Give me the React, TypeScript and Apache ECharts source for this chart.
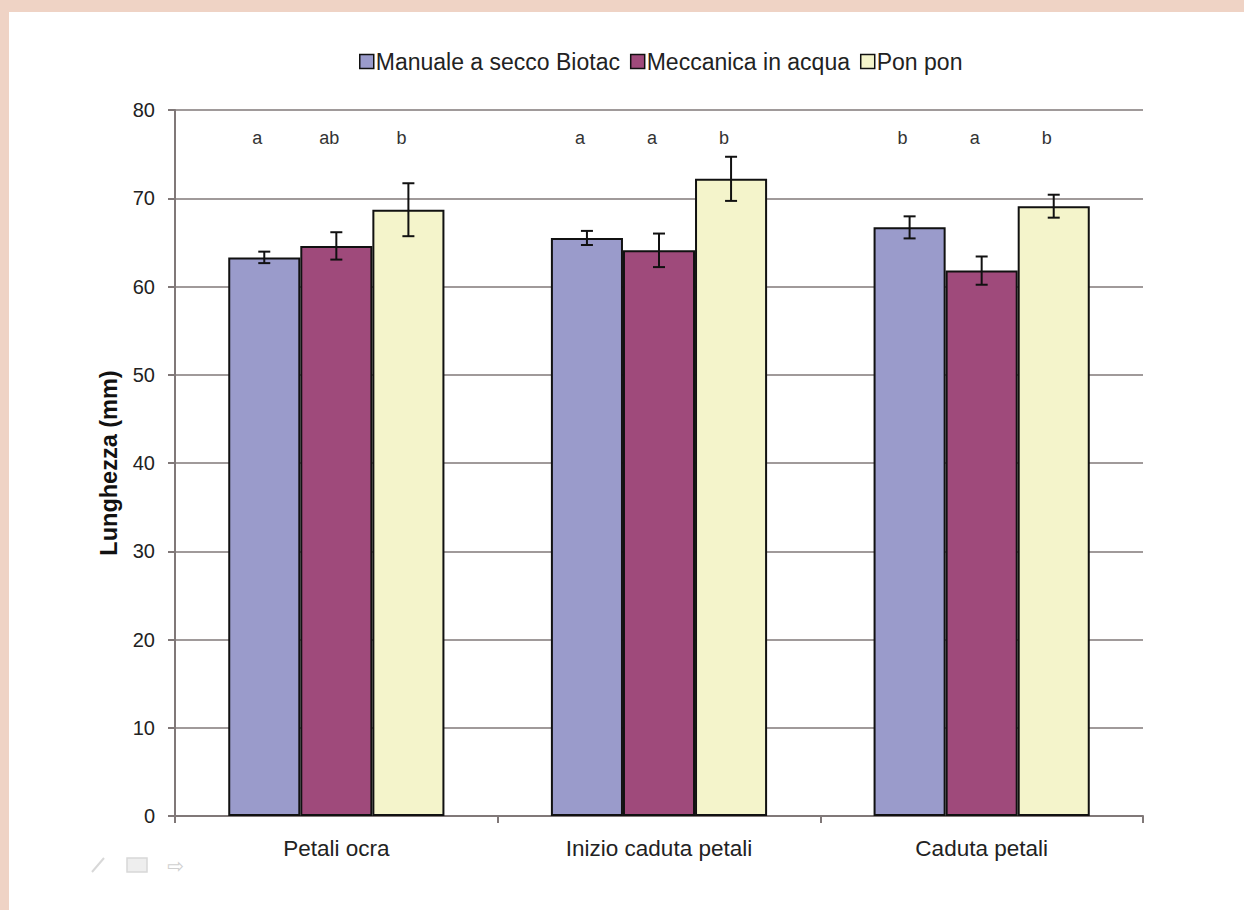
import React, { useEffect, useRef } from "react";
import * as echarts from "echarts";

const categories = ["Petali ocra", "Inizio caduta petali", "Caduta petali"];
const seriesNames = ["Manuale a secco Biotac", "Meccanica in acqua", "Pon pon"];
const manuale = [63.3, 65.5, 66.7];
const manualeErr = [0.65, 0.8, 1.25];
const meccanica = [64.6, 64.1, 61.8];
const meccanicaErr = [1.55, 1.9, 1.6];
const ponpon = [68.7, 72.2, 69.1];
const ponponErr = [3.0, 2.5, 1.3];
const manualeLetters = ["a", "a", "b"];
const meccanicaLetters = ["ab", "a", "a"];
const ponponLetters = ["b", "b", "b"];
const letterLevel = 76.8;
const yTicks = [0, 10, 20, 30, 40, 50, 60, 70, 80];

const colors = ["#9a9bcb", "#9f4a7b", "#f4f4cb"];
const FONT = "Liberation Sans, Arial, sans-serif";
const CAT_GAP = 0.33;

export default function App() {
  const ref = useRef<HTMLDivElement>(null);
  useEffect(() => {
    if (!ref.current) return;
    const chart = echarts.init(ref.current, undefined, { renderer: "svg" });
    const values = [manuale, meccanica, ponpon];
    const errs = [manualeErr, meccanicaErr, ponponErr];
    const letters = [manualeLetters, meccanicaLetters, ponponLetters];

    const barSeries = values.map((v, i) => ({
      name: seriesNames[i],
      type: "bar",
      data: v,
      barGap: "0%",
      barCategoryGap: "33%",
      itemStyle: { color: colors[i], borderColor: "#111", borderWidth: 2 },
      z: 2,
    }));

    const errSeries = values.map((v, i) => ({
      name: "err" + i,
      type: "custom",
      z: 5,
      data: v.map((m, k) => [k, m, errs[i][k]]),
      encode: { x: 0, y: 1 },
      renderItem: (params: any, api: any) => {
        const cat = api.value(0);
        const mean = api.value(1);
        const e = api.value(2);
        const catW = api.size([1, 0])[0];
        const barW = (catW * (1 - CAT_GAP)) / 3;
        const off = (i - 1) * barW;
        const top = api.coord([cat, mean + e]);
        const bot = api.coord([cat, mean - e]);
        const lab = api.coord([cat, letterLevel]);
        const x = top[0] + off;
        const hw = 6;
        const st = { stroke: "#111", lineWidth: 2 };
        return {
          type: "group",
          children: [
            { type: "line", shape: { x1: x, y1: top[1], x2: x, y2: bot[1] }, style: st },
            { type: "line", shape: { x1: x - hw, y1: top[1], x2: x + hw, y2: top[1] }, style: st },
            { type: "line", shape: { x1: x - hw, y1: bot[1], x2: x + hw, y2: bot[1] }, style: st },
            {
              type: "text",
              x: x - 7,
              y: lab[1],
              style: {
                text: letters[i][params.dataIndex],
                fill: "#333",
                font: `18px ${FONT}`,
                align: "center",
                verticalAlign: "middle",
              },
            },
          ],
        };
      },
    }));

    chart.setOption({
      animation: false,
      backgroundColor: "#efd3c5",
      textStyle: { fontFamily: FONT },
      graphic: [
        { type: "rect", shape: { x: 9, y: 12, width: 1240, height: 900 }, style: { fill: "#ffffff" }, z: -10 },
        { type: "line", shape: { x1: 92, y1: 872, x2: 104, y2: 858 }, style: { stroke: "#d8d8d8", lineWidth: 2 } },
        { type: "rect", shape: { x: 127, y: 858, width: 20, height: 14 }, style: { fill: "#eeeeee", stroke: "#d8d8d8", lineWidth: 1.5 } },
        { type: "text", x: 167, y: 866, style: { text: "⇨", fill: "#d0d0d0", font: `20px DejaVu Sans`, verticalAlign: "middle" } },
      ],
      legend: {
        data: seriesNames,
        top: 45,
        left: 354,
        itemWidth: 14,
        itemHeight: 14,
        itemGap: 10,
        icon: "rect",
        itemStyle: { borderColor: "#111", borderWidth: 1.5 },
        textStyle: { fontSize: 23, color: "#222", fontFamily: FONT, padding: [0, 0, 0, -3] },
      },
      grid: { left: 175, right: 101, top: 110, bottom: 94 },
      xAxis: {
        type: "category",
        data: categories,
        axisLine: { lineStyle: { color: "#807878", width: 2 } },
        axisTick: { show: true, length: 7, lineStyle: { color: "#807878", width: 2 } },
        axisLabel: { fontSize: 22.5, color: "#222", margin: 21, fontFamily: FONT },
      },
      yAxis: {
        type: "value",
        min: yTicks[0],
        max: yTicks[yTicks.length - 1],
        interval: 10,
        name: "Lunghezza (mm)",
        nameLocation: "middle",
        nameGap: 54,
        nameRotate: 90,
        nameTextStyle: { fontSize: 23.5, fontWeight: "bold", color: "#111", fontFamily: FONT },
        axisLine: { show: true, lineStyle: { color: "#807878", width: 2 } },
        axisTick: { show: true, length: 7, lineStyle: { color: "#807878", width: 2 } },
        axisLabel: { fontSize: 20, color: "#222", margin: 20, fontFamily: FONT },
        splitLine: { show: true, lineStyle: { color: "#807878", width: 1.5 } },
      },
      series: [...barSeries, ...errSeries],
    });
    return () => chart.dispose();
  }, []);
  return (
    <div
      ref={ref}
      style={{ position: "absolute", left: 0, top: 0, width: 1244, height: 910 }}
    />
  );
}
